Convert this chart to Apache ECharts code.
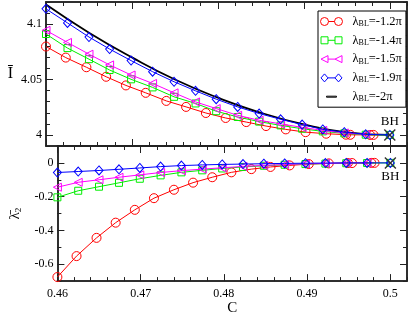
<!DOCTYPE html>
<html><head><meta charset="utf-8">
<script src="https://cdn.jsdelivr.net/npm/echarts@6/dist/echarts.min.js"></script>
<style>html,body{margin:0;padding:0;background:#fff}#c{width:409px;height:317px}</style>
</head><body><div id="c"></div>
<script>
// ---- data ----
const C_red = [0.4600,0.4623,0.4647,0.4670,0.4693,0.4716,0.4740,0.4763,0.4786,0.4809,0.4833,0.4856,0.4879,0.4902,0.4926,0.4949,0.4954,0.4977,0.4981];
const I_red = [4.0798,4.0698,4.0611,4.0525,4.0447,4.0380,4.0307,4.0253,4.0198,4.0153,4.0116,4.0080,4.0050,4.0025,4.0011,4.0002,4.0001,4.0000,4.0000];
const L_red = [-0.676,-0.552,-0.444,-0.354,-0.278,-0.209,-0.159,-0.117,-0.085,-0.056,-0.037,-0.024,-0.015,-0.007,-0.003,-0.001,-0.001,0.000,0.000];

const C_other = [0.4600,0.4625,0.4650,0.4674,0.4699,0.4724,0.4749,0.4774,0.4798,0.4823,0.4848,0.4873,0.4898,0.4922,0.4947,0.4972,0.5000];
const I_green = [4.0911,4.0784,4.0684,4.0586,4.0502,4.0429,4.0344,4.0284,4.0214,4.0162,4.0120,4.0086,4.0056,4.0032,4.0014,4.0002,4.0000];
const I_pink  = [4.0944,4.0835,4.0729,4.0632,4.0541,4.0465,4.0380,4.0298,4.0238,4.0177,4.0132,4.0100,4.0068,4.0041,4.0018,4.0005];
const I_blue  = [4.1138,4.1011,4.0884,4.0775,4.0671,4.0571,4.0480,4.0398,4.0323,4.0253,4.0193,4.0141,4.0093,4.0050,4.0025,4.0005,4.0000];
const L_green = [-0.204,-0.165,-0.141,-0.118,-0.094,-0.074,-0.056,-0.044,-0.033,-0.024,-0.017,-0.011,-0.007,-0.004,-0.002,-0.001,0.000];
const L_pink  = [-0.144,-0.115,-0.100,-0.085,-0.071,-0.057,-0.046,-0.037,-0.029,-0.021,-0.015,-0.010,-0.006,-0.003,-0.001,0.000];
const L_blue  = [-0.057,-0.051,-0.045,-0.038,-0.030,-0.022,-0.016,-0.012,-0.009,-0.007,-0.005,-0.003,-0.002,-0.001,0.000,0.000,0.000];

const C_black = [0.460,0.465,0.470,0.475,0.480,0.485,0.490,0.495,0.500];
const I_black = [4.1177,4.0923,4.0700,4.0500,4.0336,4.0200,4.0095,4.0023,4.0000];

const BH_top = [0.5, 4.0];
const BH_bottom = [0.5, 0.0];

const legendValues = ['-1.2π','-1.4π','-1.5π','-1.9π','-2π'];
const xMajor = [0.46,0.47,0.48,0.49,0.5];
const yTopMajor = [4,4.05,4.1];
const yBotMajor = [-0.6,-0.4,-0.2,0];
const X_MIN = 0.46, X_MAX = 0.502, YT_MIN = 3.99, YT_MAX = 4.12, YB_MIN = -0.7, YB_MAX = 0.1;

// minor tick positions
function steps(a, b, s, majors) {
  const out = [];
  for (let i = 0; a + i * s <= b + 1e-9; i++) {
    const v = +(a + i * s).toFixed(4);
    if (!majors.some(m => Math.abs(m - v) < 1e-6)) out.push(v);
  }
  return out;
}
const xMinor = steps(0.46, 0.502, 0.002, xMajor);
const yTopMinor = steps(3.99, 4.12, 0.01, yTopMajor);
const yBotMinor = steps(-0.7, 0.1, 0.1, yBotMajor);

// ---- chart ----
const FONT = "'Liberation Serif','DejaVu Serif','Times New Roman',serif";
const AX = '#222';
const pair = (xs, ys) => ys.map((y, i) => [xs[i], y]);

function mkX(grid, pos, ticks, len, opts) {
  return Object.assign({
    type: 'value', gridIndex: grid, position: pos, min: X_MIN, max: X_MAX,
    axisLine: { show: true, onZero: false, lineStyle: { color: AX, width: 1.5 } },
    axisTick: { show: true, inside: true, length: len, customValues: ticks, lineStyle: { color: AX, width: 1 } },
    axisLabel: { show: false, customValues: ticks },
    splitLine: { show: false }
  }, opts || {});
}
function mkY(grid, pos, min, max, ticks, len, opts) {
  return Object.assign({
    type: 'value', gridIndex: grid, position: pos, min: min, max: max,
    axisLine: { show: true, onZero: false, lineStyle: { color: AX, width: 1.5 } },
    axisTick: { show: true, inside: true, length: len, customValues: ticks, lineStyle: { color: AX, width: 1 } },
    axisLabel: { show: false, customValues: ticks },
    splitLine: { show: false }
  }, opts || {});
}
const labelStyle = (vals, margin) => ({ show: true, customValues: vals, margin: margin, fontFamily: FONT, fontSize: 12, color: '#000' });

const xAxis = [
  mkX(0, 'bottom', xMajor, 7),
  mkX(0, 'bottom', xMinor, 4),
  mkX(0, 'top', xMajor, 7),
  mkX(0, 'top', xMinor, 4),
  mkX(1, 'bottom', xMajor, 7, { axisLabel: labelStyle(xMajor, 7), name: 'C', nameLocation: 'middle', nameGap: 16,
    nameTextStyle: { fontFamily: FONT, fontSize: 15, color: '#000' } }),
  mkX(1, 'bottom', xMinor, 4),
  mkX(1, 'top', xMajor, 7),
  mkX(1, 'top', xMinor, 4)
];
const yAxis = [
  mkY(0, 'left', YT_MIN, YT_MAX, yTopMajor, 7, { axisLabel: labelStyle(yTopMajor, 4), name: 'Ī', nameLocation: 'middle', nameGap: 33, nameRotate: 0,
    nameTextStyle: { fontFamily: FONT, fontSize: 16, color: '#000' } }),
  mkY(0, 'left', YT_MIN, YT_MAX, yTopMinor, 4),
  mkY(0, 'right', YT_MIN, YT_MAX, yTopMajor, 7),
  mkY(0, 'right', YT_MIN, YT_MAX, yTopMinor, 4),
  mkY(1, 'left', YB_MIN, YB_MAX, yBotMajor, 7, { axisLabel: labelStyle(yBotMajor, 4), name: '{a|λ̄}{b|2}', nameLocation: 'middle', nameGap: 30,
    nameTextStyle: { fontFamily: FONT, fontSize: 15, color: '#000', rich: {
      a: { fontFamily: FONT, fontSize: 15, lineHeight: 16, verticalAlign: 'middle' },
      b: { fontFamily: FONT, fontSize: 9, lineHeight: 9, verticalAlign: 'bottom' } } } }),
  mkY(1, 'left', YB_MIN, YB_MAX, yBotMinor, 4),
  mkY(1, 'right', YB_MIN, YB_MAX, yBotMajor, 7),
  mkY(1, 'right', YB_MIN, YB_MAX, yBotMinor, 4)
];

const names = legendValues.map(v => 'λBL=' + v);
const COLORS = ['#ff0000', '#00ee00', '#ff00ff', '#0000ff', '#000000'];
const SYMS = [
  { symbol: 'circle', symbolSize: 9, symbolRotate: 0 },
  { symbol: 'rect', symbolSize: 7, symbolRotate: 0 },
  { symbol: 'triangle', symbolSize: 8, symbolRotate: 90 },
  { symbol: 'diamond', symbolSize: [8, 9], symbolRotate: 0 }
];
// legend icon outlines: "symbol — symbol" in a 22x9 box (M0,0 M22,9 fixes the box)
const BOX = 'M0,0 M22,9 ';
const ICONS = [
  'path://' + BOX + 'M0,4.5 A4,4 0 1,1 8,4.5 A4,4 0 1,1 0,4.5 Z M8,4.5 L14,4.5 M14,4.5 A4,4 0 1,1 22,4.5 A4,4 0 1,1 14,4.5 Z',
  'path://' + BOX + 'M0.5,1 L7.5,1 L7.5,8 L0.5,8 Z M7.5,4.5 L14.5,4.5 M14.5,1 L21.5,1 L21.5,8 L14.5,8 Z',
  'path://' + BOX + 'M0.5,4.5 L7.5,1 L7.5,8 Z M7.5,4.5 L14.5,4.5 M14.5,4.5 L21.5,1 L21.5,8 Z',
  'path://' + BOX + 'M4,0.5 L7.5,4.5 L4,8.5 L0.5,4.5 Z M7.5,4.5 L14.5,4.5 M18,0.5 L21.5,4.5 L18,8.5 L14.5,4.5 Z',
  'path://' + BOX + 'M6,4 L16,4 L16,5 L6,5 Z'
];

function lineSeries(i, xi, yi, data) {
  return Object.assign({
    type: 'line', name: names[i], xAxisIndex: xi, yAxisIndex: yi, data: data,
    lineStyle: { color: COLORS[i], width: 1 },
    itemStyle: { color: 'rgba(255,255,255,0)', borderColor: COLORS[i], borderWidth: 1 },
    showAllSymbol: true, animation: false, z: 3 + i
  }, SYMS[i]);
}
const XMARK = 'path://M0,1 L1,0 L6,5 L11,0 L12,1 L7,6 L12,11 L11,12 L6,7 L1,12 L0,11 L5,6 Z';
const bhSeries = (xi, yi, d, pos) => ({
  type: 'scatter', xAxisIndex: xi, yAxisIndex: yi, data: [d], silent: true, animation: false, z: 10,
  symbol: XMARK, symbolSize: 12,
  itemStyle: { color: '#333', opacity: 1 },
  label: { show: true, position: pos, distance: 1, formatter: 'BH', fontFamily: FONT, fontSize: 13, color: '#000', opacity: 1, textBorderWidth: 0 },
  emphasis: { disabled: true }
});

const series = [
  lineSeries(0, 0, 0, pair(C_red, I_red)),
  lineSeries(1, 0, 0, pair(C_other, I_green)),
  lineSeries(2, 0, 0, pair(C_other, I_pink)),
  lineSeries(3, 0, 0, pair(C_other, I_blue)),
  { type: 'line', name: names[4], xAxisIndex: 0, yAxisIndex: 0, data: pair(C_black, I_black), smooth: true,
    symbol: 'none', lineStyle: { color: '#000', width: 1.8 }, itemStyle: { color: '#000', borderColor: '#000' }, animation: false, z: 2 },
  lineSeries(0, 4, 4, pair(C_red, L_red)),
  lineSeries(1, 4, 4, pair(C_other, L_green)),
  lineSeries(2, 4, 4, pair(C_other, L_pink)),
  lineSeries(3, 4, 4, pair(C_other, L_blue)),
  bhSeries(0, 0, BH_top, 'top'),
  bhSeries(4, 4, BH_bottom, 'bottom')
];

const chart = echarts.init(document.getElementById('c'), null, { renderer: 'canvas' });
chart.setOption({
  backgroundColor: '#fff',
  animation: false,
  grid: [
    { left: 46, top: 2, width: 361, height: 144 },
    { left: 46, top: 146, width: 361, height: 144 }
  ],
  xAxis: xAxis,
  yAxis: yAxis,
  legend: {
    data: names.map((n, i) => ({ name: n, icon: ICONS[i] })),
    orient: 'vertical', left: 318, top: 11,
    itemWidth: 22, itemHeight: 9, itemGap: 5.8, padding: [4, 4, 4, 2],
    borderColor: '#000', borderWidth: 1, backgroundColor: '#fff', selectedMode: false,
    itemStyle: { color: 'rgba(255,255,255,0)', borderColor: 'inherit', borderWidth: 1 },
    formatter: n => '{l|λ}{s|BL}{t|' + n.slice(3) + '}',
    textStyle: { fontFamily: FONT, fontSize: 12, color: '#000', rich: {
      l: { fontFamily: FONT, fontSize: 12.5, lineHeight: 13, verticalAlign: 'middle', padding: [0, 0, 0, 5] },
      s: { fontFamily: FONT, fontSize: 8, lineHeight: 8, verticalAlign: 'bottom' },
      t: { fontFamily: FONT, fontSize: 12.5, lineHeight: 13, verticalAlign: 'middle' } } }
  },
  series: series
});
</script></body></html>
